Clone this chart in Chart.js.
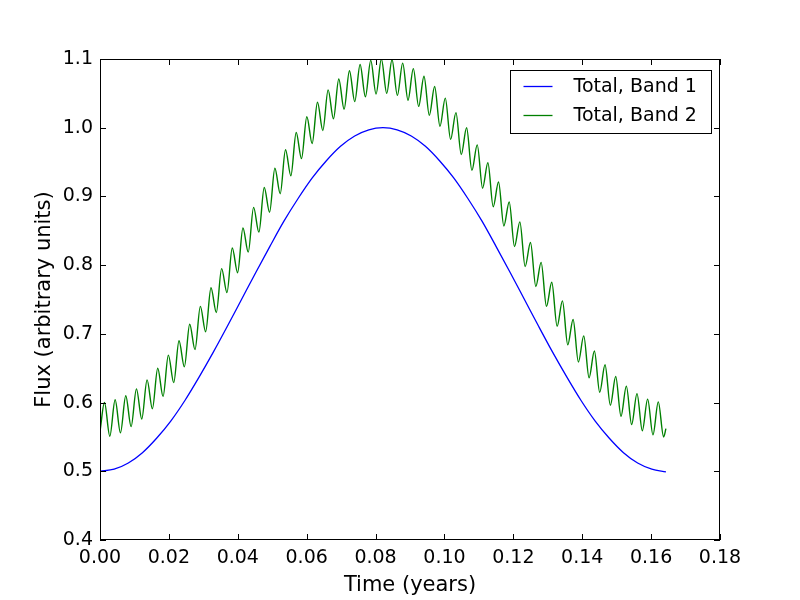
<!DOCTYPE html>
<html>
<head>
<meta charset="utf-8">
<script src="https://cdn.jsdelivr.net/npm/chart.js@4"></script>
<style>
html, body { margin:0; padding:0; background:#fff; }
#flux-chart { display:block; }
</style>
</head>
<body>
<canvas id="flux-chart" width="800" height="600"></canvas>
<script>
// values
const xTickLabels = ['0.00','0.02','0.04','0.06','0.08','0.10','0.12','0.14','0.16','0.18'];
const yTickLabels = ['0.4','0.5','0.6','0.7','0.8','0.9','1.0','1.1'];

// band 1: smooth curve, sampled along the line
const band1Time = [0, 0.00411, 0.00822, 0.01232, 0.01643, 0.02054, 0.02465, 0.02876, 0.03286, 0.03697,
  0.04108, 0.04519, 0.04929, 0.05340, 0.05751, 0.06162, 0.06572, 0.06983, 0.07394, 0.07805,
  0.08215, 0.08626, 0.09037, 0.09448, 0.09858, 0.10269, 0.10680, 0.11091, 0.11501, 0.11912,
  0.12323, 0.12734, 0.13144, 0.13555, 0.13966, 0.14377, 0.14787, 0.15198, 0.15609, 0.16020, 0.16430];
const band1Flux = [0.500, 0.503, 0.512, 0.527, 0.548, 0.573, 0.603, 0.637, 0.673, 0.711,
  0.750, 0.789, 0.827, 0.864, 0.897, 0.927, 0.952, 0.973, 0.988, 0.997,
  1.000, 0.997, 0.988, 0.973, 0.952, 0.927, 0.897, 0.864, 0.827, 0.789,
  0.750, 0.711, 0.673, 0.637, 0.603, 0.573, 0.548, 0.527, 0.512, 0.503, 0.499];

// band 2: start, every peak and trough of the wiggle, end
const band2Time = [0,
  0.00130, 0.00285, 0.00439, 0.00594, 0.00748, 0.00903, 0.01058, 0.01212, 0.01367, 0.01521,
  0.01676, 0.01831, 0.01985, 0.02140, 0.02294, 0.02449, 0.02604, 0.02758, 0.02913, 0.03067,
  0.03222, 0.03377, 0.03531, 0.03686, 0.03840, 0.03995, 0.04150, 0.04304, 0.04459, 0.04613,
  0.04768, 0.04923, 0.05077, 0.05232, 0.05386, 0.05541, 0.05696, 0.05850, 0.06005, 0.06159,
  0.06314, 0.06469, 0.06623, 0.06778, 0.06932, 0.07087, 0.07242, 0.07396, 0.07551, 0.07705,
  0.07860, 0.08015, 0.08169, 0.08324, 0.08478, 0.08633, 0.08788, 0.08942, 0.09097, 0.09251,
  0.09406, 0.09561, 0.09715, 0.09870, 0.10024, 0.10179, 0.10334, 0.10488, 0.10643, 0.10797,
  0.10952, 0.11107, 0.11261, 0.11416, 0.11570, 0.11725, 0.11880, 0.12034, 0.12189, 0.12343,
  0.12498, 0.12653, 0.12807, 0.12962, 0.13116, 0.13271, 0.13426, 0.13580, 0.13735, 0.13889,
  0.14044, 0.14199, 0.14353, 0.14508, 0.14662, 0.14817, 0.14972, 0.15126, 0.15281, 0.15435,
  0.15590, 0.15745, 0.15899, 0.16054, 0.16208, 0.16363,
  0.16430];
const band2Flux = [0.558,
  0.600, 0.551, 0.604, 0.556, 0.610, 0.565, 0.620, 0.576, 0.633, 0.591,
  0.650, 0.609, 0.669, 0.629, 0.690, 0.652, 0.714, 0.677, 0.740, 0.703,
  0.767, 0.731, 0.795, 0.760, 0.825, 0.789, 0.854, 0.819, 0.884, 0.848,
  0.913, 0.877, 0.941, 0.904, 0.968, 0.930, 0.993, 0.955, 1.016, 0.977,
  1.037, 0.996, 1.055, 1.013, 1.071, 1.027, 1.083, 1.038, 1.092, 1.045,
  1.098, 1.049, 1.100, 1.050, 1.099, 1.047, 1.094, 1.040, 1.086, 1.031,
  1.075, 1.018, 1.060, 1.002, 1.043, 0.983, 1.022, 0.961, 1.000, 0.938,
  0.975, 0.912, 0.949, 0.885, 0.921, 0.857, 0.892, 0.827, 0.863, 0.798,
  0.833, 0.769, 0.804, 0.740, 0.775, 0.711, 0.748, 0.684, 0.721, 0.659,
  0.697, 0.636, 0.675, 0.615, 0.655, 0.596, 0.638, 0.580, 0.624, 0.568,
  0.613, 0.559, 0.605, 0.553, 0.601, 0.550,
  0.562];

const seriesNames = ['Total, Band 1', 'Total, Band 2'];
const seriesColors = ['#0000ff', '#008000'];

const fluxchart = document.getElementById('flux-chart');
const fontFamily = "'DejaVu Sans', sans-serif";

// matplotlib classic look: box frame, inward ticks on all sides, boxed legend
const mplFrame = {
  id: 'mplFrame',
  afterDatasetsDraw(chart) {
    const ctx = chart.ctx;
    const a = chart.chartArea;
    const xs = chart.scales.x, ys = chart.scales.y;
    const tick = 6;
    ctx.save();
    ctx.strokeStyle = '#000';
    ctx.lineWidth = 1;
    ctx.strokeRect(Math.round(a.left) + 0.5, Math.round(a.top) + 0.5,
      Math.round(a.right - a.left) - 1, Math.round(a.bottom - a.top) - 1);
    ctx.beginPath();
    xs.ticks.forEach(t => {
      const px = Math.round(xs.getPixelForValue(t.value)) + 0.5;
      ctx.moveTo(px, a.bottom); ctx.lineTo(px, a.bottom - tick);
      ctx.moveTo(px, a.top); ctx.lineTo(px, a.top + tick);
    });
    ys.ticks.forEach(t => {
      const py = Math.round(ys.getPixelForValue(t.value)) + 0.5;
      ctx.moveTo(a.left, py); ctx.lineTo(a.left + tick, py);
      ctx.moveTo(a.right, py); ctx.lineTo(a.right - tick, py);
    });
    ctx.stroke();

    // legend
    const bw = 201, bh = 63;
    const bx = Math.round(a.right - 9 - bw) + 0.5;
    const by = Math.round(a.top + 11) + 0.5;
    ctx.fillStyle = '#fff';
    ctx.fillRect(bx, by, bw, bh);
    ctx.strokeRect(bx, by, bw, bh);
    ctx.font = '19px ' + fontFamily;
    ctx.textBaseline = 'middle';
    ctx.textAlign = 'left';
    chart.data.datasets.forEach((ds, i) => {
      const ry = Math.round(by + 15 + i * 29) + 0.5;
      ctx.strokeStyle = ds.borderColor;
      ctx.lineWidth = 1.3;
      ctx.beginPath();
      ctx.moveTo(bx + 13, ry); ctx.lineTo(bx + 42, ry);
      ctx.stroke();
      ctx.fillStyle = '#000';
      ctx.fillText(ds.label, bx + 63, ry + 1);
    });
    ctx.restore();
  }
};

new Chart(fluxchart, {
  type: 'line',
  data: {
    datasets: [{
      label: seriesNames[0],
      data: band1Time.map((t, i) => ({x: t, y: band1Flux[i]})),
      borderColor: seriesColors[0],
      borderWidth: 1.3,
      pointRadius: 0,
      cubicInterpolationMode: 'monotone',
      fill: false
    }, {
      label: seriesNames[1],
      data: band2Time.map((t, i) => ({x: t, y: band2Flux[i]})),
      borderColor: seriesColors[1],
      borderWidth: 1.4,
      pointRadius: 0,
      cubicInterpolationMode: 'monotone',
      fill: false
    }]
  },
  options: {
    responsive: false,
    animation: false,
    layout: { padding: { left: 0, right: 80, top: 59, bottom: 0 } },
    plugins: { legend: { display: false }, tooltip: { enabled: false } },
    scales: {
      x: {
        type: 'linear',
        min: 0, max: 0.18,
        grid: { display: false, drawTicks: false },
        border: { display: false },
        ticks: {
          stepSize: 0.02,
          autoSkip: false,
          maxRotation: 0,
          padding: 7,
          color: '#000',
          font: { family: fontFamily, size: 19 },
          callback: (v, i) => xTickLabels[i]
        },
        title: {
          display: true, text: 'Time (years)', color: '#000',
          font: { family: fontFamily, size: 21 },
          padding: { top: 0, bottom: 2 }
        },
        afterFit: s => { s.height = 60; }
      },
      y: {
        min: 0.4, max: 1.1,
        grid: { display: false, drawTicks: false },
        border: { display: false },
        ticks: {
          stepSize: 0.1,
          padding: 7,
          color: '#000',
          font: { family: fontFamily, size: 19 },
          callback: (v, i) => yTickLabels[i]
        },
        title: {
          display: true, text: 'Flux (arbitrary units)', color: '#000',
          font: { family: fontFamily, size: 21 },
          padding: { top: 32, bottom: 0 }
        },
        afterFit: s => { s.width = 100; }
      }
    }
  },
  plugins: [mplFrame]
});
</script>
</body>
</html>
